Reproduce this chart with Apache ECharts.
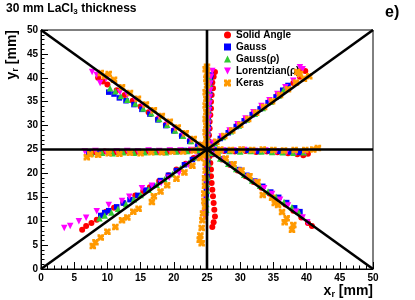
<!DOCTYPE html>
<html>
<head>
<meta charset="utf-8">
<script src="https://cdn.jsdelivr.net/npm/echarts@6/dist/echarts.min.js"></script>
<style>html,body{margin:0;padding:0;background:#fff;}#c{width:415px;height:300px;}</style>
</head>
<body>
<div id="c"></div>
<script>
// ---- axis ticks ----
const xTicks = [0,5,10,15,20,25,30,35,40,45,50];
const yTicks = [0,5,10,15,20,25,30,35,40,45,50];

// ---- reference lines (endpoints) ----
const diagUp = [[0,0],[50,50]];
const diagDown = [[0,50],[50,0]];
const horizLine = [[0,25],[50,25]];
const vertLine = [[25,0],[25,50]];

// ---- Solid Angle (red) ----
const solidAngle = [
  // lower-left diagonal
  [6.2,8.2],[6.8,9.0],[7.6,9.6],[8.4,10.3],[9.2,11.2],[9.8,12.0],[11.0,12.8],[12.4,13.8],[14.2,15.4],[15.4,16.3],[16.4,17.1],[17.8,18.4],[19.2,19.6],[20.4,20.8],[21.8,22.0],[23.0,23.2],[24.0,24.2],
  // upper-right diagonal
  [26.0,26.3],[27.2,27.6],[28.4,28.8],[29.6,30.1],[30.8,31.3],[32.0,32.6],[33.2,33.8],[34.4,35.0],[35.6,36.3],[36.8,37.6],[38.0,38.9],[39.0,40.2],[39.8,41.4],[39.2,41.8],
  // upper-left
  [8.6,40.0],[9.3,39.2],[10.0,38.6],[11.4,37.4],[12.6,36.4],[13.8,35.2],[15.0,34.0],[16.2,32.8],[17.6,31.4],[18.8,30.2],[20.0,29.0],[21.2,27.8],[22.4,26.8],[23.6,25.8],
  // lower-right
  [26.0,24.0],[27.2,22.9],[28.4,21.8],[29.6,20.6],[30.8,19.4],[32.0,18.2],[33.2,17.0],[34.4,15.8],[35.6,14.6],[36.8,13.5],[38.0,12.2],[39.2,10.8],[40.2,9.6],[40.8,9.0],
  // horizontal left
  [8.0,24.5],[9.6,24.6],[11.2,24.4],[12.8,24.6],[14.4,24.5],[16.0,24.6],[17.6,24.5],[19.2,24.6],[20.8,24.7],[22.4,24.8],[24.0,24.9],
  // horizontal right
  [26.0,24.8],[27.6,24.7],[29.2,24.6],[30.8,24.7],[32.4,24.5],[34.0,24.6],[35.6,24.4],[37.2,24.2],[38.6,24.0],[39.5,23.8],[40.2,24.1],
  // vertical up
  [26.2,41.2],[26.0,40.2],[25.8,39.0],[25.9,37.8],[25.7,36.4],[25.6,35.0],[25.6,33.6],[25.5,32.2],[25.4,30.8],[25.4,29.4],[25.3,28.0],[25.3,26.6],
  // vertical down
  [25.4,23.6],[25.5,22.2],[25.6,20.8],[25.6,19.4],[25.7,18.0],[25.8,16.6],[25.9,15.2],[26.0,13.8],[26.1,12.4],[26.2,11.0],[26.0,9.8],[25.8,8.8],
  // centre
  [25.4,25.6],[25.8,25.2]
];

// ---- Gauss (blue) ----
const gauss = [
  [9.0,11.2],[9.6,11.8],[10.2,12.2],[11.4,13.0],[12.4,13.8],[13.4,14.5],[14.6,15.4],[15.8,16.5],[16.8,17.4],[18.0,18.5],[19.2,19.6],[20.4,20.6],[21.6,21.8],[22.8,22.9],[24.0,24.1],
  [25.8,26.0],[27.0,27.3],[28.2,28.5],[29.4,29.8],[30.6,31.0],[31.8,32.3],[33.0,33.5],[34.2,34.8],[35.4,36.0],[36.4,37.4],[37.2,38.4],
  [10.2,37.0],[11.0,36.6],[11.8,35.8],[12.8,35.2],[14.0,34.4],[15.2,33.4],[16.4,32.4],[17.6,31.2],[18.8,30.0],[20.0,28.9],[21.2,27.8],[22.4,26.7],[23.6,25.7],
  [26.2,24.1],[27.4,23.0],[28.6,21.9],[29.8,20.8],[31.0,19.6],[32.2,18.4],[33.4,17.3],[34.6,16.1],[35.8,15.0],[37.0,13.9],[38.2,12.8],[39.0,12.0],
  [7.2,24.4],[8.8,24.5],[10.4,24.3],[12.0,24.5],[13.6,24.4],[15.2,24.5],[16.8,24.6],[18.4,24.5],[20.0,24.7],[21.6,24.8],[23.2,24.9],
  [26.4,24.9],[28.0,24.8],[29.6,24.7],[31.2,24.8],[32.8,24.6],[34.4,24.7],[36.0,24.6],[37.6,24.5],[39.0,24.4],
  [25.6,40.6],[25.5,39.4],[25.4,38.0],[25.4,36.6],[25.3,35.2],[25.3,33.8],[25.2,32.4],[25.2,31.0],[25.2,29.6],[25.1,28.2],[25.1,26.8],
  [25.1,23.8],[25.1,22.4],[25.0,21.0],[25.0,19.6],[24.9,18.2],[24.9,16.8],[24.9,15.4],[24.8,14.0],[24.8,12.8],[24.8,11.7],
  [25.2,25.3],[24.8,25.5]
];

// ---- Gauss(rho) (green) ----
const gaussRho = [
  [8.8,10.6],[9.6,11.2],[10.6,11.8],[11.6,12.6],[12.8,13.6],[14.0,14.6],[15.0,15.5],[16.2,16.6],[17.4,17.6],[18.6,18.8],[19.8,19.9],[21.0,21.1],[22.2,22.2],[23.4,23.4],[24.4,24.4],
  [26.2,26.3],[27.4,27.6],[28.6,28.8],[29.8,30.0],[31.0,31.3],[32.2,32.5],[33.4,33.7],[34.6,35.0],[35.8,36.3],[36.6,37.6],
  [10.4,37.8],[11.2,37.2],[12.0,36.2],[13.0,35.4],[14.2,34.6],[15.4,33.6],[16.6,32.6],[17.8,31.4],[19.0,30.2],[20.2,29.0],[21.4,27.9],[22.6,26.8],[23.8,25.8],
  [25.8,24.3],[27.0,23.1],[28.2,22.0],[29.4,20.9],[30.6,19.7],[31.8,18.5],[33.0,17.4],[34.2,16.2],[35.4,15.1],[36.6,14.0],[37.8,12.9],[38.8,12.0],
  [7.6,24.2],[9.2,24.3],[10.8,24.2],[12.4,24.4],[14.0,24.3],[15.6,24.4],[17.2,24.5],[18.8,24.4],[20.4,24.6],[22.0,24.7],[23.6,24.9],
  [26.8,24.8],[28.4,24.7],[30.0,24.6],[31.6,24.7],[33.2,24.6],[34.8,24.5],[36.4,24.4],[38.0,24.3],[39.6,24.4],
  [25.4,40.0],[25.4,38.6],[25.3,37.2],[25.3,35.8],[25.2,34.4],[25.2,33.0],[25.2,31.6],[25.1,30.2],[25.1,28.8],[25.1,27.4],[25.0,26.2],
  [25.2,23.4],[25.2,22.0],[25.1,20.6],[25.1,19.2],[25.0,17.8],[25.0,16.4],[25.0,15.0],[24.9,13.6],[24.9,12.4],
  [25.0,25.0],[25.5,24.7]
];

// ---- Lorentzian(rho) (magenta) ----
const lorentzRho = [
  [3.5,8.6],[4.4,9.0],[5.7,10.0],[6.8,10.7],[8.4,12.1],[10.2,13.4],[12.2,14.2],[13.3,15.1],[15.2,16.9],[16.7,17.4],[18.1,18.0],[19.3,19.1],[20.8,20.1],[22.2,21.8],[23.6,23.3],
  [26.0,26.4],[27.2,27.7],[28.4,29.0],[29.6,30.3],[30.8,31.5],[32.0,32.8],[33.2,34.1],[34.4,35.3],[35.6,36.6],[36.8,38.0],[38.0,39.4],[38.8,40.6],[39.4,41.8],[39.0,42.2],
  [7.7,41.2],[8.4,40.6],[8.9,38.9],[9.8,39.8],[11.9,37.0],[13.0,36.4],[14.2,35.4],[15.4,34.2],[16.6,33.0],[17.8,31.8],[19.0,30.6],[20.2,29.4],[21.4,28.2],[22.6,27.0],[23.8,25.9],
  [26.4,23.8],[27.6,22.8],[28.8,21.6],[30.0,20.4],[31.2,19.2],[32.4,18.1],[33.6,16.9],[34.8,15.7],[36.0,14.5],[37.2,13.3],[38.4,12.0],[39.4,10.8],[40.1,9.8],
  [6.6,24.6],[8.2,24.7],[9.8,24.5],[11.4,24.6],[13.0,24.7],[14.6,24.6],[16.2,24.8],[17.8,24.7],[19.4,24.8],[21.0,24.8],[22.6,24.9],
  [25.8,24.9],[27.4,24.8],[29.0,24.8],[30.6,24.9],[32.2,24.7],[33.8,24.8],[35.4,24.6],[37.0,24.5],[38.4,24.4],[39.8,24.6],
  [25.8,41.4],[25.6,40.2],[25.5,38.8],[25.5,37.4],[25.4,36.0],[25.4,34.6],[25.3,33.2],[25.3,31.8],[25.2,30.4],[25.2,29.0],[25.1,27.6],[25.1,26.2],
  [25.0,24.0],[25.0,22.6],[24.9,21.2],[24.9,19.8],[24.8,18.4],[24.8,17.0],[24.7,15.6],[24.7,14.2],[24.7,12.8],[24.6,11.6],[24.7,10.9],
  [24.6,25.2],[25.3,25.8]
];

// ---- Keras (orange) ----
const keras = [
  [7.8,4.8],[8.2,5.6],[9.0,6.6],[10.0,7.8],[11.2,8.8],[12.2,10.2],[13.0,10.8],[13.9,12.0],[14.7,12.6],[16.7,14.0],[17.0,15.2],[18.0,16.2],[19.0,17.5],[20.4,18.9],[21.6,20.2],[22.8,21.6],[24.0,23.2],
  [26.4,26.6],[27.6,27.8],[28.8,29.0],[30.0,30.2],[31.2,31.4],[32.4,32.7],[33.6,33.9],[34.8,35.1],[36.0,36.4],[37.2,37.6],[38.4,39.0],[39.6,39.8],[40.4,40.3],[39.0,40.8],[38.6,41.2],
  [9.0,41.0],[9.6,40.4],[10.2,40.8],[11.0,39.6],[12.2,38.0],[13.4,36.8],[14.6,35.6],[15.8,34.4],[17.0,33.2],[18.2,32.0],[19.4,30.8],[20.6,29.6],[21.8,28.4],[23.0,27.2],[24.2,26.0],
  [26.6,24.2],[27.8,23.1],[29.0,21.9],[30.2,20.6],[31.4,19.4],[32.6,18.2],[33.4,15.5],[34.8,14.9],[35.2,13.8],[35.7,13.4],[36.3,11.9],[37.0,10.6],[36.7,9.8],[38.0,9.2],[37.8,8.2],
  [6.9,23.4],[7.4,24.0],[8.6,23.9],[10.2,24.2],[11.8,24.1],[13.4,24.3],[15.0,24.2],[16.6,24.4],[18.2,24.4],[19.8,24.6],[21.4,24.6],[23.0,24.8],[24.4,24.9],
  [27.0,25.0],[28.6,24.9],[30.2,25.0],[31.8,24.9],[33.4,25.0],[35.0,24.9],[36.6,24.8],[38.2,24.9],[39.8,24.9],[41.0,25.0],[41.7,25.3],
  [25.0,42.3],[24.8,41.8],[25.0,41.0],[24.9,39.8],[25.0,38.4],[24.8,37.0],[24.9,35.6],[24.8,34.2],[24.9,32.8],[24.8,31.4],[24.9,30.0],[24.8,28.6],[24.9,27.2],[25.0,25.8],
  [24.9,23.8],[24.8,22.2],[24.8,20.6],[24.7,19.0],[24.7,17.4],[24.6,15.8],[24.6,14.2],[24.7,13.0],[24.4,11.6],[24.3,10.2],[24.2,8.6],[24.0,7.0],[23.9,6.1],[24.2,5.4],
  [25.6,25.5],[24.5,24.6]
];

const seriesNames = ['Solid Angle','Gauss','Gauss(\u03c1)','Lorentzian(\u03c1)','Keras'];
const seriesColors = ['#ff0000','#0000ff','#33cc33','#ff00ff','#ff9900'];

const FONT = '"Liberation Sans", Arial, Helvetica, sans-serif';
const starPath = 'path://M0,0 L4,0 L5,2 L6,0 L10,0 L10,4 L8,5 L10,6 L10,10 L6,10 L5,8 L4,10 L0,10 L0,6 L2,5 L0,4 Z';
const symbols = ['circle','rect','triangle','path://M0,0 L10,0 L5,10 Z',starPath];
const sizes = [6,5.5,6.5,6.5,6.5];
const datasets = [solidAngle, gauss, gaussRho, lorentzRho, keras];

const chart = echarts.init(document.getElementById('c'), null, {renderer:'canvas'});

const scatterSeries = datasets.map((d,i)=>({
  name: seriesNames[i],
  type: 'scatter',
  data: d,
  symbol: symbols[i],
  symbolSize: sizes[i],
  itemStyle: {color: seriesColors[i], opacity: 1},
  z: 2 + i,
  silent: true,
  animation: false
}));

const lineSeries = [diagUp, diagDown, horizLine, vertLine].map(d=>({
  type: 'line',
  data: d,
  symbol: 'none',
  lineStyle: {color:'#000', width: 2.6},
  z: 10,
  silent: true,
  animation: false
}));

const axisCommon = {
  min: 0, max: 50, interval: 5,
  axisLine: {show: true, lineStyle: {color:'#000', width: 1}},
  axisTick: {show: true, inside: true, length: 7, lineStyle: {color:'#000', width: 1}},
  minorTick: {show: true, splitNumber: 5, length: 3.5, lineStyle: {color:'#000', width: 1}},
  splitLine: {show: false},
  axisLabel: {color:'#000', fontFamily: FONT, fontWeight: 'bold', fontSize: 10}
};

chart.setOption({
  animation: false,
  backgroundColor: '#fff',
  grid: {left: 41, right: 42, top: 30, bottom: 31, show: true, borderColor: '#000', borderWidth: 1, backgroundColor: 'transparent'},
  xAxis: Object.assign({type:'value'}, axisCommon, {
    axisLabel: Object.assign({}, axisCommon.axisLabel, {margin: 4, formatter: v => xTicks.includes(v) ? String(v) : ''})
  }),
  yAxis: Object.assign({type:'value'}, axisCommon, {
    axisLabel: Object.assign({}, axisCommon.axisLabel, {margin: 3, formatter: v => yTicks.includes(v) ? String(v) : ''})
  }),
  legend: {
    orient: 'vertical',
    left: 219, top: 25,
    itemWidth: 7, itemHeight: 7, itemGap: 2,
    data: seriesNames,
    textStyle: {color:'#000', fontFamily: FONT, fontWeight: 'bold', fontSize: 10, padding: [0,0,0,0]},
    selectedMode: false
  },
  graphic: [
    {type:'text', left: 6, top: 3, style: {
      text: '{a|30 mm LaCl}{s|3}{a| thickness}',
      rich: {a: {fontFamily: FONT, fontWeight:'bold', fontSize: 12, fill:'#000'},
             s: {fontFamily: FONT, fontWeight:'bold', fontSize: 8, fill:'#000', padding:[6,0,0,0]}}
    }},
    {type:'text', left: 385, top: 5, style: {text: 'e)', fontFamily: FONT, fontWeight:'bold', fontSize: 16, fill:'#000'}},
    {type:'text', x: 373, y: 291, style: {
      text: '{a|x}{s|r}{a| [mm]}', align: 'right', verticalAlign: 'middle',
      rich: {a: {fontFamily: FONT, fontWeight:'bold', fontSize: 14, fill:'#000'},
             s: {fontFamily: FONT, fontWeight:'bold', fontSize: 9, fill:'#000', padding:[7,0,0,0]}}
    }},
    {type:'text', x: 12, y: 30, rotation: Math.PI/2, style: {
      text: '{a|y}{s|r}{a| [mm]}', align: 'right', verticalAlign: 'middle',
      rich: {a: {fontFamily: FONT, fontWeight:'bold', fontSize: 14, fill:'#000'},
             s: {fontFamily: FONT, fontWeight:'bold', fontSize: 9, fill:'#000', padding:[7,0,0,0]}}
    }}
  ],
  series: scatterSeries.concat(lineSeries)
});
</script>
</body>
</html>
